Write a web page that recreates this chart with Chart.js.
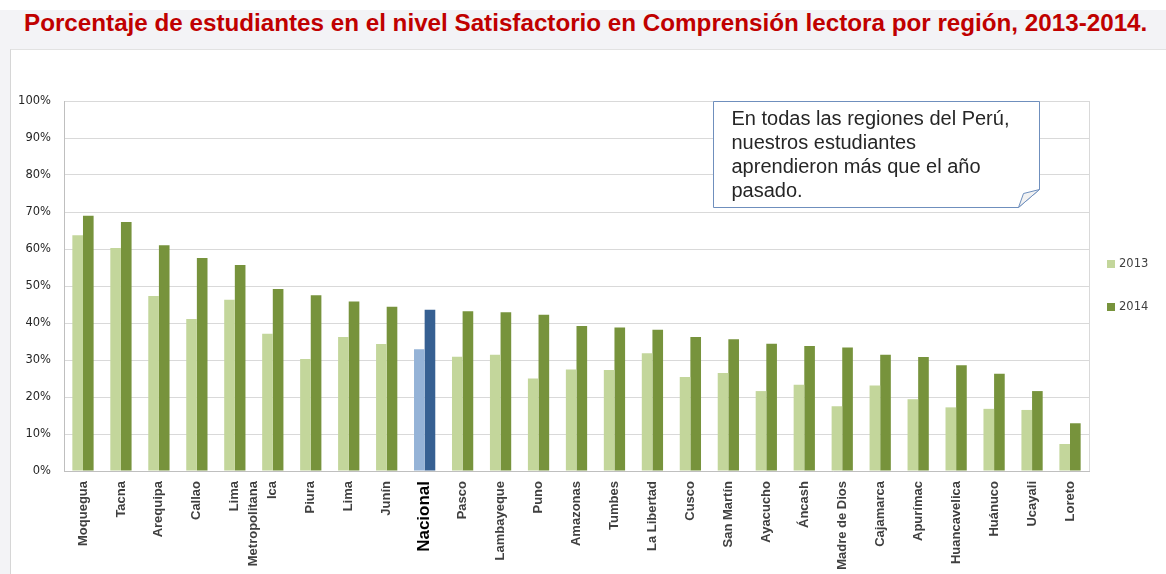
<!DOCTYPE html>
<html>
<head>
<meta charset="utf-8">
<script src="https://cdn.jsdelivr.net/npm/chart.js@4"></script>
<style>
  html, body { margin: 0; padding: 0; }
  body {
    width: 1166px; height: 574px; position: relative; overflow: hidden;
    background: #fff;
  }
  #band {
    position: absolute; left: 0; top: 10px; width: 1166px; height: 564px;
    background: linear-gradient(105deg, #f3f3f6 0%, #f3f3f6 92%, #e7e7e9 92%, #e7e7e9 100%);
  }
  #panel {
    position: absolute; left: 10px; top: 49px; width: 1160px; height: 530px;
    background: #fff; border-left: 1px solid #d6d6d6; border-top: 1px solid #e2e2e2;
  }
  #title {
    position: absolute; left: 24px; top: 10px; white-space: nowrap;
    font: bold 23px 'Liberation Sans', Arial, sans-serif; color: #c00000;
    transform-origin: 0 0;
  }
  #chartBox { position: absolute; left: 0; top: 50px; width: 1166px; height: 524px; }
</style>
</head>
<body>
<div id="band"></div>
<div id="panel"></div>
<div id="title">Porcentaje de estudiantes en el nivel Satisfactorio en Comprensión lectora por región, 2013-2014.</div>
<div id="chartBox"><canvas id="chart" width="1166" height="524"></canvas></div>
<script>
// Data (percent)
const regions = ['Moquegua', 'Tacna', 'Arequipa', 'Callao', ['Lima', 'Metropolitana'], 'Ica', 'Piura', 'Lima', 'Junín',
  'Nacional', 'Pasco', 'Lambayeque', 'Puno', 'Amazonas', 'Tumbes', 'La Libertad', 'Cusco', 'San Martín',
  'Ayacucho', 'Áncash', 'Madre de Dios', 'Cajamarca', 'Apurímac', 'Huancavelica', 'Huánuco', 'Ucayali', 'Loreto'];
const values2013 = [63.7, 60.3, 47.3, 41.1, 46.3, 37.1, 30.3, 36.2, 34.3, 32.9, 30.9, 31.4, 25.0, 27.4, 27.3, 31.8,
  25.4, 26.5, 21.6, 23.3, 17.5, 23.1, 19.4, 17.2, 16.8, 16.5, 7.3];
const values2014 = [69.0, 67.3, 61.0, 57.6, 55.7, 49.2, 47.5, 45.8, 44.4, 43.6, 43.2, 42.9, 42.2, 39.2, 38.8, 38.2,
  36.2, 35.6, 34.4, 33.8, 33.4, 31.4, 30.8, 28.6, 26.3, 21.6, 12.9];
const yearLabels = ['2013', '2014'];
const yTicks = [0, 10, 20, 30, 40, 50, 60, 70, 80, 90, 100];
const noteLines = ['En todas las regiones del Perú,', 'nuestros estudiantes', 'aprendieron más que el año', 'pasado.'];

// Colours
const LIGHT_GREEN = '#c3d69b';
const DARK_GREEN = '#77933c';
const LIGHT_BLUE = '#95b3d7';
const DARK_BLUE = '#366092';
const NATIONAL = 'Nacional';

// Fit the title to its width in the reference
const title = document.getElementById('title');
title.style.transform = 'scaleX(' + (1123 / title.offsetWidth) + ')';

function barColors(base, highlight) {
  return regions.map(r => r === NATIONAL ? highlight : base);
}

// Frame lines, legend and the note box
const extras = {
  id: 'extras',
  afterDraw(chart) {
    const ctx = chart.ctx;
    const area = chart.chartArea;
    const y = chart.scales.y;

    // right border of plot
    ctx.save();
    ctx.strokeStyle = '#d9d9d9';
    ctx.lineWidth = 1;
    ctx.beginPath();
    ctx.moveTo(area.right + 0.5, area.top);
    ctx.lineTo(area.right + 0.5, area.bottom);
    ctx.stroke();

    // legend
    const midY = (area.top + area.bottom) / 2;
    chart.data.datasets.forEach((ds, i) => {
      const cy = midY - 22 + i * 43;
      ctx.fillStyle = ds.legendColor;
      ctx.fillRect(area.right + 18, cy - 4, 8, 8);
      ctx.fillStyle = '#404040';
      ctx.font = '11.5px "DejaVu Sans", Verdana, sans-serif';
      ctx.textBaseline = 'middle';
      ctx.textAlign = 'left';
      ctx.fillText(ds.label, area.right + 30, cy);
    });

    // note box with folded corner
    const w = area.right - area.left;
    const L = Math.round(area.left + 0.6335 * w) + 0.5;
    const R = Math.round(area.left + 0.951 * w) + 0.5;
    const T = Math.round(y.getPixelForValue(100)) + 0.5;
    const B = Math.round(y.getPixelForValue(71.4)) + 0.5;
    ctx.fillStyle = '#fff';
    ctx.strokeStyle = '#6f8fbd';
    ctx.beginPath();
    ctx.moveTo(L, T);
    ctx.lineTo(R, T);
    ctx.lineTo(R, B - 18);
    ctx.lineTo(R - 21, B);
    ctx.lineTo(L, B);
    ctx.closePath();
    ctx.fill();
    ctx.stroke();
    ctx.fillStyle = '#f2f2f2';
    ctx.beginPath();
    ctx.moveTo(R - 21, B);
    ctx.lineTo(R - 16, B - 14);
    ctx.lineTo(R, B - 18);
    ctx.closePath();
    ctx.fill();
    ctx.stroke();

    ctx.fillStyle = '#262626';
    ctx.font = '20px "Liberation Sans", Arial, sans-serif';
    ctx.textAlign = 'left';
    ctx.textBaseline = 'middle';
    noteLines.forEach((line, i) => {
      ctx.fillText(line, L + 18, T + 18 + i * 24);
    });
    ctx.restore();
  }
};

const chart = new Chart(document.getElementById('chart'), {
  type: 'bar',
  data: {
    labels: regions,
    datasets: [
      {
        label: yearLabels[0],
        data: values2013,
        backgroundColor: barColors(LIGHT_GREEN, LIGHT_BLUE),
        legendColor: LIGHT_GREEN,
        borderWidth: 0,
        categoryPercentage: 0.56,
        barPercentage: 1
      },
      {
        label: yearLabels[1],
        data: values2014,
        backgroundColor: barColors(DARK_GREEN, DARK_BLUE),
        legendColor: DARK_GREEN,
        borderWidth: 0,
        categoryPercentage: 0.56,
        barPercentage: 1
      }
    ]
  },
  options: {
    responsive: false,
    devicePixelRatio: 1,
    animation: false,
    layout: { padding: { top: 51, right: 77, left: 0, bottom: 0 } },
    plugins: {
      legend: { display: false },
      tooltip: { enabled: false }
    },
    scales: {
      x: {
        grid: { display: false },
        border: { display: true, color: '#bfbfbf' },
        afterFit: scale => { scale.height = 103; },
        ticks: {
          autoSkip: false,
          maxRotation: 90,
          minRotation: 90,
          padding: 2,
          color: ctx => regions[ctx.index] === NATIONAL ? '#000' : '#404040',
          font: ctx => regions[ctx.index] === NATIONAL
            ? { family: '"Liberation Sans", Arial, sans-serif', size: 17, weight: 'bold', lineHeight: 1.15 }
            : { family: '"Liberation Sans", Arial, sans-serif', size: 13, weight: 'bold', lineHeight: 1.4 }
        }
      },
      y: {
        min: 0,
        max: 100,
        afterFit: scale => { scale.width = 64; },
        afterBuildTicks: scale => { scale.ticks = yTicks.map(v => ({ value: v })); },
        grid: { color: '#d9d9d9', drawTicks: false },
        border: { display: true, color: '#bfbfbf' },
        ticks: {
          padding: 13,
          color: '#262626',
          font: { family: '"DejaVu Sans", Verdana, sans-serif', size: 11.5 },
          callback: v => v + '%'
        }
      }
    }
  },
  plugins: [extras]
});
</script>
</body>
</html>
